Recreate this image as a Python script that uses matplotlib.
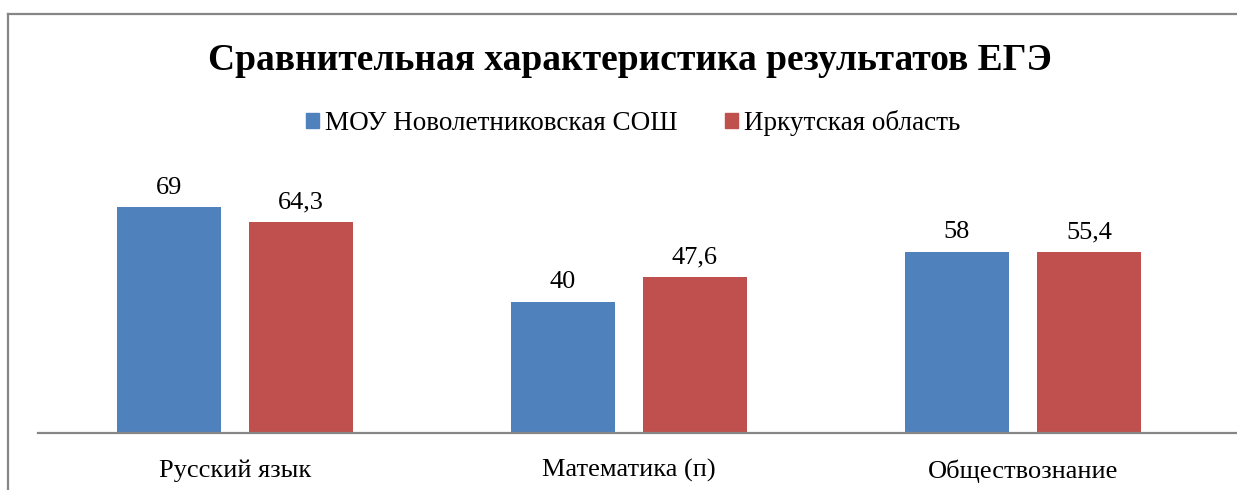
import numpy as np
import matplotlib.pyplot as plt
from matplotlib.patches import Rectangle
from matplotlib.lines import Line2D

plt.rcParams['font.family'] = ['Liberation Serif', 'DejaVu Serif']

categories = ['Русский язык', 'Математика (п)', 'Обществознание']
series_names = ['МОУ Новолетниковская СОШ', 'Иркутская область']
# bar heights as drawn in the picture (the 58 bar is drawn at the 55.4 level)
school_vals = [69, 40, 55.4]
school_labels = ['69', '40', '58']
region_vals = [64.3, 47.6, 55.4]
region_labels = ['64,3', '47,6', '55,4']
colors = ['#4F81BD', '#C0504D']

W, H = 1237, 490
fig = plt.figure(figsize=(W / 100, H / 100), dpi=100)

# outer chart frame (cut off at right and bottom)
fig.add_artist(Line2D([8 / W, 1236 / W], [1 - 14 / H, 1 - 14 / H], color='#868686', lw=1.6))
fig.add_artist(Line2D([8 / W, 8 / W], [1 - 14 / H, 0], color='#868686', lw=1.6))

ax = fig.add_axes([38 / W, (H - 433) / H, (W - 38) / W, 262 / H])
x = np.arange(len(categories))
bw = 0.264
off = 0.1675
b1 = ax.bar(x - off, school_vals, bw, color=colors[0])
b2 = ax.bar(x + off, region_vals, bw, color=colors[1])
for bars, labs in ((b1, school_labels), (b2, region_labels)):
    for b, t in zip(bars, labs):
        ax.text(b.get_x() + b.get_width() / 2, b.get_height() + 2.6, t,
                ha='center', va='bottom', fontsize=19)

ax.set_xlim(-0.5, -0.5 + (W - 38) / 394)
ax.set_ylim(0, 80)
ax.set_yticks([])
ax.set_xticks(x)
ax.set_xticklabels(categories, fontsize=19)
ax.tick_params(axis='x', length=0, pad=19)
for s in ['top', 'right', 'left']:
    ax.spines[s].set_visible(False)
ax.spines['bottom'].set_color('#868686')
ax.spines['bottom'].set_linewidth(1.6)

fig.text(630 / W, 1 - 60 / H, 'Сравнительная характеристика результатов ЕГЭ',
         ha='center', va='center', fontsize=27, fontweight='bold')

handles = [Rectangle((0, 0), 1, 1, color=c) for c in colors]
fig.legend(handles, series_names, loc='center', bbox_to_anchor=(633 / W, 1 - 123 / H),
           ncol=2, frameon=False, fontsize=19.5, handlelength=0.5, handleheight=0.5,
           handletextpad=0.2, columnspacing=1.75)

fig.savefig('out.png', dpi=100)
